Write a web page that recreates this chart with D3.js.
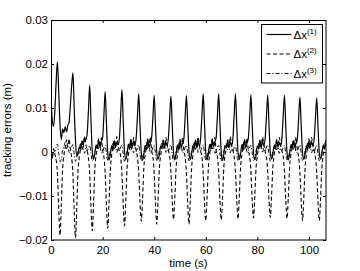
<!DOCTYPE html>
<html lang="en">
<head>
<meta charset="UTF-8">
<title>Tracking errors</title>
<style>
    body { margin: 0; padding: 0; background: #fff; overflow: hidden; }
    svg { display: block; font-family: "Liberation Sans", Arial, sans-serif; }
    .tick text { font-size: 11.5px; fill: #000; }
    .label { font-size: 11.5px; fill: #000; }
</style>
</head>
<body>
<div id="chart"></div>
<script src="https://d3js.org/d3.v7.min.js"></script>
<script>
const sampleStep = 0.5;

const dx1 = [
    0.0125, 0.0072, 0.0058, 0.0095, 0.0160, 0.0205,
    0.0135, 0.0062, 0.0028, 0.0052, 0.0044, 0.0058, 0.0046, 0.0060, 0.0068, 0.0105, 0.0150, 0.0180,
    0.0098, 0.0025, -0.0010, -0.0004, 0.0012, 0.0006, 0.0024, 0.0015, 0.0034, 0.0028, 0.0040, 0.0092, 0.0152,
    0.0072, 0.0002, -0.0016, -0.0003, 0.0016, 0.0008, 0.0027, 0.0012, 0.0024, 0.0032, 0.0082, 0.0137,
    0.0064, -0.0002, -0.0018, -0.0006, 0.0014, 0.0004, 0.0026, 0.0010, 0.0022, 0.0016, 0.0030, 0.0085, 0.0142,
    0.0068, 0.0001, -0.0017, -0.0004, 0.0018, 0.0007, 0.0028, 0.0011, 0.0025, 0.0014, 0.0031, 0.0080, 0.0133,
    0.0062, -0.0003, -0.0019, -0.0005, 0.0015, 0.0005, 0.0027, 0.0012, 0.0020, 0.0033, 0.0078, 0.0129,
    0.0060, -0.0001, -0.0016, -0.0006, 0.0013, 0.0008, 0.0025, 0.0009, 0.0023, 0.0015, 0.0032, 0.0079, 0.0127,
    0.0061, -0.0002, -0.0018, -0.0004, 0.0016, 0.0006, 0.0026, 0.0011, 0.0021, 0.0030, 0.0080, 0.0128,
    0.0063, 0.0000, -0.0017, -0.0005, 0.0014, 0.0007, 0.0027, 0.0010, 0.0024, 0.0013, 0.0031, 0.0082, 0.0132,
    0.0064, -0.0001, -0.0018, -0.0003, 0.0017, 0.0006, 0.0028, 0.0012, 0.0022, 0.0032, 0.0081, 0.0133,
    0.0062, -0.0002, -0.0019, -0.0005, 0.0015, 0.0008, 0.0026, 0.0010, 0.0023, 0.0014, 0.0030, 0.0083, 0.0133,
    0.0061, -0.0001, -0.0017, -0.0004, 0.0016, 0.0005, 0.0027, 0.0011, 0.0021, 0.0031, 0.0080, 0.0130,
    0.0060, -0.0002, -0.0018, -0.0006, 0.0014, 0.0007, 0.0025, 0.0010, 0.0024, 0.0015, 0.0030, 0.0079, 0.0129,
    0.0062, 0.0000, -0.0016, -0.0005, 0.0015, 0.0006, 0.0027, 0.0012, 0.0022, 0.0014, 0.0031, 0.0080, 0.0129,
    0.0060, -0.0002, -0.0018, -0.0004, 0.0016, 0.0007, 0.0026, 0.0010, 0.0021, 0.0030, 0.0077, 0.0125,
    0.0058, -0.0001, -0.0017, -0.0005, 0.0014, 0.0006, 0.0025, 0.0011, 0.0023, 0.0014, 0.0029, 0.0076, 0.0123,
    0.0058, -0.0002, -0.0016, -0.0004, 0.0015, 0.0007, 0.0020
];

const dx2 = [
    0.0010, -0.0015, 0.0008, -0.0005, -0.0018, -0.0050,
    -0.0130, -0.0189, -0.0120, -0.0040, -0.0008, 0.0010, 0.0028, 0.0012, 0.0030, 0.0005, -0.0012, -0.0052,
    -0.0135, -0.0195, -0.0125, -0.0042, -0.0010, 0.0008, 0.0026, 0.0010, 0.0034, 0.0018, 0.0003, -0.0012, -0.0050,
    -0.0125, -0.0179, -0.0115, -0.0038, -0.0006, 0.0012, 0.0030, 0.0011, 0.0032, 0.0004, -0.0011, -0.0048,
    -0.0122, -0.0173, -0.0112, -0.0040, -0.0008, 0.0010, 0.0027, 0.0012, 0.0035, 0.0016, 0.0002, -0.0010, -0.0050,
    -0.0120, -0.0168, -0.0110, -0.0037, -0.0007, 0.0011, 0.0029, 0.0010, 0.0033, 0.0017, 0.0004, -0.0012, -0.0047,
    -0.0115, -0.0157, -0.0105, -0.0036, -0.0006, 0.0012, 0.0030, 0.0012, 0.0034, 0.0003, -0.0011, -0.0049,
    -0.0118, -0.0164, -0.0108, -0.0038, -0.0008, 0.0010, 0.0028, 0.0011, 0.0033, 0.0015, 0.0003, -0.0010, -0.0046,
    -0.0112, -0.0153, -0.0102, -0.0035, -0.0006, 0.0011, 0.0029, 0.0012, 0.0032, 0.0004, -0.0012, -0.0048,
    -0.0118, -0.0164, -0.0108, -0.0037, -0.0007, 0.0010, 0.0027, 0.0010, 0.0034, 0.0016, 0.0002, -0.0011, -0.0047,
    -0.0114, -0.0156, -0.0104, -0.0036, -0.0006, 0.0012, 0.0030, 0.0011, 0.0033, 0.0003, -0.0010, -0.0046,
    -0.0112, -0.0154, -0.0103, -0.0035, -0.0007, 0.0011, 0.0028, 0.0012, 0.0035, 0.0015, 0.0004, -0.0011, -0.0046,
    -0.0110, -0.0152, -0.0101, -0.0034, -0.0006, 0.0010, 0.0029, 0.0010, 0.0032, 0.0003, -0.0010, -0.0045,
    -0.0109, -0.0150, -0.0100, -0.0035, -0.0008, 0.0011, 0.0027, 0.0011, 0.0034, 0.0016, 0.0002, -0.0012, -0.0045,
    -0.0108, -0.0149, -0.0099, -0.0034, -0.0007, 0.0012, 0.0029, 0.0012, 0.0033, 0.0015, 0.0003, -0.0010, -0.0046,
    -0.0110, -0.0151, -0.0101, -0.0035, -0.0006, 0.0010, 0.0028, 0.0011, 0.0034, 0.0004, -0.0011, -0.0047,
    -0.0113, -0.0156, -0.0104, -0.0036, -0.0007, 0.0011, 0.0030, 0.0010, 0.0033, 0.0016, 0.0003, -0.0011, -0.0047,
    -0.0113, -0.0156, -0.0104, -0.0036, -0.0007, 0.0010, 0.0026
];

const dx3 = [
    -0.0010, -0.0014, 0.0003, 0.0001, 0.0011, 0.0018,
    -0.0003, -0.0022, -0.0016, 0.0003, 0.0012, 0.0022, 0.0007, 0.0015, -0.0001, 0.0003, 0.0011, 0.0017,
    -0.0005, -0.0021, -0.0013, 0.0001, 0.0010, 0.0019, 0.0005, 0.0013, -0.0003, 0.0009, 0.0002, 0.0010, 0.0015,
    -0.0004, -0.0020, -0.0015, 0.0002, 0.0011, 0.0021, 0.0006, 0.0014, -0.0002, 0.0001, 0.0009, 0.0016,
    -0.0003, -0.0019, -0.0014, 0.0003, 0.0009, 0.0020, 0.0007, 0.0012, -0.0001, 0.0008, 0.0003, 0.0011, 0.0015,
    -0.0005, -0.0021, -0.0013, 0.0002, 0.0011, 0.0019, 0.0005, 0.0014, -0.0002, 0.0007, 0.0001, 0.0010, 0.0016,
    -0.0004, -0.0020, -0.0014, 0.0001, 0.0010, 0.0021, 0.0006, 0.0013, -0.0003, 0.0002, 0.0010, 0.0015,
    -0.0003, -0.0019, -0.0015, 0.0003, 0.0012, 0.0020, 0.0007, 0.0015, -0.0001, 0.0009, 0.0002, 0.0011, 0.0016,
    -0.0005, -0.0021, -0.0013, 0.0002, 0.0010, 0.0019, 0.0005, 0.0013, -0.0002, 0.0001, 0.0010, 0.0015,
    -0.0004, -0.0020, -0.0014, 0.0001, 0.0011, 0.0021, 0.0006, 0.0014, -0.0001, 0.0008, 0.0003, 0.0010, 0.0016,
    -0.0003, -0.0019, -0.0015, 0.0003, 0.0009, 0.0020, 0.0007, 0.0012, -0.0003, 0.0002, 0.0011, 0.0015,
    -0.0005, -0.0021, -0.0013, 0.0002, 0.0012, 0.0019, 0.0005, 0.0015, -0.0002, 0.0007, 0.0001, 0.0010, 0.0016,
    -0.0004, -0.0020, -0.0014, 0.0001, 0.0010, 0.0021, 0.0006, 0.0013, -0.0001, 0.0003, 0.0010, 0.0015,
    -0.0003, -0.0019, -0.0015, 0.0003, 0.0011, 0.0020, 0.0007, 0.0014, -0.0002, 0.0009, 0.0002, 0.0011, 0.0016,
    -0.0005, -0.0021, -0.0013, 0.0002, 0.0010, 0.0019, 0.0005, 0.0012, -0.0003, 0.0008, 0.0003, 0.0010, 0.0015,
    -0.0004, -0.0020, -0.0014, 0.0001, 0.0012, 0.0021, 0.0006, 0.0015, -0.0001, 0.0002, 0.0011, 0.0016,
    -0.0003, -0.0019, -0.0015, 0.0003, 0.0010, 0.0020, 0.0007, 0.0013, -0.0002, 0.0007, 0.0001, 0.0010, 0.0015,
    -0.0004, -0.0020, -0.0014, 0.0002, 0.0011, 0.0019, 0.0006
];

const xTicks = [0, 20, 40, 60, 80, 100];
const yTicks = [-0.02, -0.01, 0, 0.01, 0.02, 0.03];
const yTickLabels = ["\u22120.02", "\u22120.01", "0", "0.01", "0.02", "0.03"];
const seriesNames = ["(1)", "(2)", "(3)"];

const width = 360, height = 271;
const margin = { top: 20, right: 34, bottom: 31, left: 51 };
const plotW = width - margin.left - margin.right;
const plotH = height - margin.top - margin.bottom;

const svg = d3.select("#chart").append("svg")
    .attr("width", width)
    .attr("height", height);

const x = d3.scaleLinear().domain([0, 106.6]).range([0, plotW]);
const y = d3.scaleLinear().domain([-0.02, 0.03]).range([plotH, 0]);

const g = svg.append("g").attr("transform", `translate(${margin.left},${margin.top})`);

g.append("clipPath").attr("id", "clip")
    .append("rect").attr("width", plotW).attr("height", plotH);

const series = [
    { values: dx1, dash: null, width: 1.2 },
    { values: dx2, dash: "4,2.5", width: 1.1 },
    { values: dx3, dash: "4,2,1,2", width: 1 }
];

const line = d3.line()
    .x((d, i) => x(i * sampleStep))
    .y(d => y(d))
    .curve(d3.curveMonotoneX);

const lines = g.append("g").attr("clip-path", "url(#clip)");
// draw dash-dot first, solid on top
series.slice().reverse().forEach(s => {
    lines.append("path")
        .datum(s.values)
        .attr("fill", "none")
        .attr("stroke", "#000")
        .attr("stroke-width", s.width)
        .attr("stroke-dasharray", s.dash)
        .attr("d", line);
});

// axes, ticks inward on all four sides
const tickLen = 3;
g.append("g").attr("transform", `translate(0,${plotH})`)
    .call(d3.axisBottom(x).tickValues(xTicks).tickSizeInner(-tickLen).tickSizeOuter(0).tickPadding(6))
    .call(a => a.select(".domain").remove());
g.append("g")
    .call(d3.axisTop(x).tickValues(xTicks).tickSizeInner(-tickLen).tickSizeOuter(0).tickFormat(""))
    .call(a => a.select(".domain").remove());
g.append("g")
    .call(d3.axisLeft(y).tickValues(yTicks).tickSizeInner(-tickLen).tickSizeOuter(0).tickPadding(3)
        .tickFormat((d, i) => yTickLabels[i]))
    .call(a => a.select(".domain").remove());
g.append("g").attr("transform", `translate(${plotW},0)`)
    .call(d3.axisRight(y).tickValues(yTicks).tickSizeInner(-tickLen).tickSizeOuter(0).tickFormat(""))
    .call(a => a.select(".domain").remove());

g.selectAll(".tick line").attr("stroke", "#000");

g.append("rect")
    .attr("x", 0.5).attr("y", 0.5)
    .attr("width", plotW - 0.5).attr("height", plotH - 0.5)
    .attr("fill", "none")
    .attr("stroke", "#000")
    .attr("stroke-width", 1);

// axis titles
svg.append("text").attr("class", "label")
    .attr("x", margin.left + plotW / 2).attr("y", 267)
    .attr("text-anchor", "middle")
    .text("time (s)");

svg.append("text").attr("class", "label")
    .attr("transform", `translate(11,${margin.top + plotH / 2}) rotate(-90)`)
    .attr("text-anchor", "middle")
    .text("tracking errors (m)");

// legend
const legend = svg.append("g").attr("transform", "translate(261.5,24.5)");
legend.append("rect")
    .attr("width", 61).attr("height", 58.5)
    .attr("fill", "#fff").attr("stroke", "#000");

series.forEach((s, i) => {
    const ly = 10 + i * 19.5;
    legend.append("line")
        .attr("x1", 5).attr("x2", 30)
        .attr("y1", ly).attr("y2", ly)
        .attr("stroke", "#000")
        .attr("stroke-width", s.width)
        .attr("stroke-dasharray", s.dash);
    const t = legend.append("text").attr("class", "label")
        .attr("x", 32).attr("y", ly + 4);
    t.append("tspan").text("\u0394x");
    t.append("tspan").attr("dy", -5).attr("font-size", "8px").text(seriesNames[i]);
});
</script>
</body>
</html>
